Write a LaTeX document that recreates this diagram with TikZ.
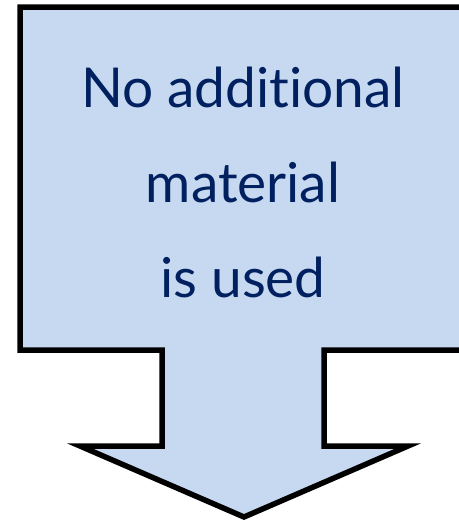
\documentclass[tikz,border=0pt]{standalone}
\usepackage{fontspec}
\setmainfont[Ligatures=NoCommon]{Lato}
\definecolor{calloutfill}{RGB}{198,217,240}
\definecolor{callouttext}{RGB}{0,32,96}

\begin{document}
\begin{tikzpicture}[x=1pt, y=-1pt]

        % (x, y) in pixels of the picture, y going down
        \useasboundingbox (0, 0) rectangle (458, 522);

        % box, stem and head of the arrow: one outline
        \draw[fill=calloutfill, line width=5.5pt, line join=miter]
            (20, 7) -- (467, 7) -- (467, 350) -- (324, 350) -- (324, 446)
            -- (408, 446) -- (244, 517) -- (80, 446) -- (162, 446)
            -- (162, 350) -- (20, 350) -- cycle;

        \node[text=callouttext, font=\fontsize{55}{95}\selectfont, align=center]
            (label) at (243, 182) {No additional\\material\\is used};

    \end{tikzpicture}
\end{document}
